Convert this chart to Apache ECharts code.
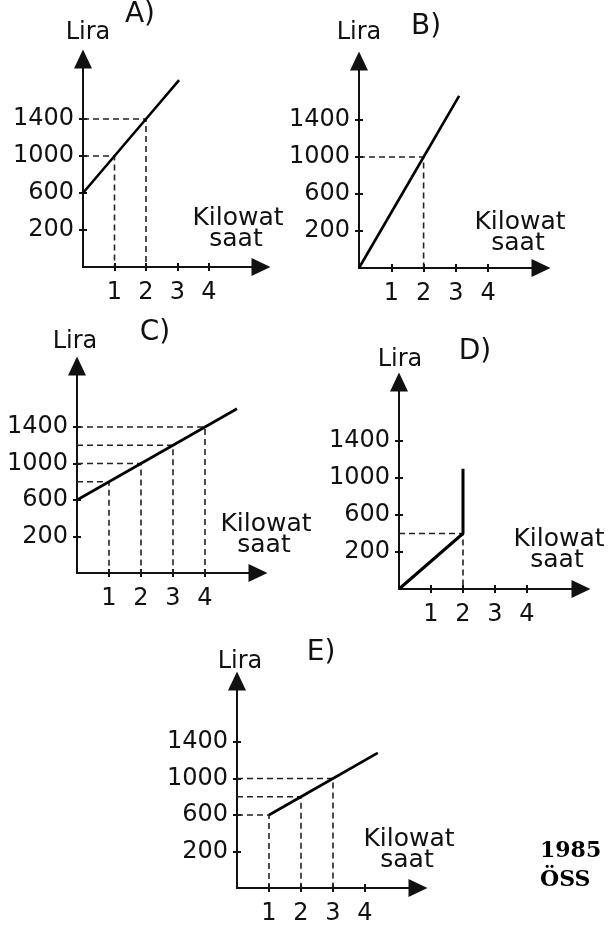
<!DOCTYPE html>
<html>
<head>
<meta charset="UTF-8">
<title>1985 ÖSS grafikler</title>
<script src="https://cdn.jsdelivr.net/npm/echarts@6/dist/echarts.min.js"></script>
<style>body{margin:0;background:#fff}</style>
</head>
<body>
<div id="show" style="width:610px;height:930px"></div>
<script type="text/javascript">
// values (kilowatt-hour, lira)
var xTicks = [1, 2, 3, 4];
var yTicks = [200, 600, 1000, 1400];
var lineA = [[0, 600], [1, 1000], [2, 1400], [3.05, 1820]];
var lineB = [[0, 0], [2, 1000], [3.1, 1660]];
var lineC = [[0, 600], [1, 800], [2, 1000], [3, 1200], [4, 1400], [5, 1600]];
var lineD = [[0, 0], [2, 400], [2, 1100]];
var lineE = [[1, 600], [2, 800], [3, 1000], [4.4, 1280]];
var guideA = [[1, 1000], [2, 1400]];
var guideB = [[2, 1000]];
var guideC = [[1, 800], [2, 1000], [3, 1200], [4, 1400]];
var guideD = [[2, 400]];
var guideE = [[1, 600], [2, 800], [3, 1000]];

// y axis of the drawing: 0..200 takes the same room as 400 above it
function toAxis(v) { return v < 200 ? 2 * v - 200 : v; }

var panels = [
  {name: 'A)', line: lineA, guide: guideA, ox: 83, oy: 267, ux: 31.5, uy: 37, xTip: 270, yTip: 50,
   title: [140, 15], lira: [88, 33], kw: [238, 218]},
  {name: 'B)', line: lineB, guide: guideB, ox: 359, oy: 268, ux: 32.3, uy: 37, xTip: 550, yTip: 52,
   title: [426, 27], lira: [359, 33], kw: [520, 222]},
  {name: 'C)', line: lineC, guide: guideC, ox: 77, oy: 573, ux: 32, uy: 36.5, xTip: 267, yTip: 357,
   title: [155, 333], lira: [75, 342], kw: [266, 524]},
  {name: 'D)', line: lineD, guide: guideD, ox: 399, oy: 589, ux: 32, uy: 37, xTip: 590, yTip: 373,
   title: [475, 352], lira: [400, 360], kw: [559, 539], bold: 3},
  {name: 'E)', line: lineE, guide: guideE, ox: 237, oy: 888, ux: 32, uy: 36.5, xTip: 427, yTip: 672,
   title: [321, 653], lira: [240, 662], kw: [409, 839]}
];

var FONT = 'DejaVu Sans';
var INK = '#111';
var FS = 24;
var grid = [], xAxis = [], yAxis = [], series = [], graphic = [];

function plain(v) { return String(v); }

panels.forEach(function (p, i) {
  var half = 9;
  var w = p.xTip - half - p.ox;
  var top = p.yTip + half;
  var h = p.oy - top;
  grid.push({left: p.ox, top: top, width: w, height: h, outerBoundsMode: 'none'});
  var xMax = w / p.ux;
  var yMax = -200 + h / p.uy * 400;
  xAxis.push({
    type: 'value', gridIndex: i, min: 0, max: xMax, position: 'bottom',
    splitLine: {show: false},
    axisLine: {onZero: false, lineStyle: {color: INK, width: 2}, symbol: ['none', 'triangle'], symbolSize: [18, 19]},
    axisTick: {customValues: xTicks, length: 4, lineStyle: {color: INK, width: 2}},
    axisLabel: {customValues: xTicks, formatter: plain, margin: 14, color: INK, fontFamily: FONT, fontSize: FS}
  });
  yAxis.push({
    type: 'value', gridIndex: i, min: -200, max: yMax, position: 'left',
    splitLine: {show: false},
    axisLine: {onZero: false, lineStyle: {color: INK, width: 2}, symbol: ['none', 'triangle'], symbolSize: [18, 19]},
    axisTick: {customValues: yTicks, length: 4, lineStyle: {color: INK, width: 2}},
    axisLabel: {customValues: yTicks, formatter: plain, margin: 9, color: INK, fontFamily: FONT, fontSize: FS}
  });
  // inner half of the ticks, so they cross the axis
  xAxis.push({type: 'value', gridIndex: i, min: 0, max: xMax, position: 'bottom', splitLine: {show: false},
    axisLine: {show: false, onZero: false}, axisLabel: {show: false},
    axisTick: {customValues: xTicks, inside: true, length: 4, lineStyle: {color: INK, width: 2}}});
  yAxis.push({type: 'value', gridIndex: i, min: -200, max: yMax, position: 'left', splitLine: {show: false},
    axisLine: {show: false, onZero: false}, axisLabel: {show: false},
    axisTick: {customValues: yTicks, inside: true, length: 4, lineStyle: {color: INK, width: 2}}});

  p.guide.forEach(function (g) {
    series.push({
      type: 'line', xAxisIndex: 2 * i, yAxisIndex: 2 * i, symbol: 'none', silent: true,
      lineStyle: {color: '#222', width: 1.6, type: [6, 4]},
      data: [[0, g[1]], [g[0], g[1]], [g[0], 0]].map(function (d) { return [d[0], toAxis(d[1])]; })
    });
  });
  series.push({
    type: 'line', xAxisIndex: 2 * i, yAxisIndex: 2 * i, symbol: 'none', silent: true, z: 5,
    lineStyle: {color: '#000', width: p.bold || 2.6},
    data: p.line.map(function (d) { return [d[0], toAxis(d[1])]; })
  });

  graphic.push({type: 'text', x: p.title[0], y: p.title[1],
    style: {text: p.name, fill: INK, font: '28px "' + FONT + '"', align: 'center', verticalAlign: 'middle'}});
  graphic.push({type: 'text', x: p.lira[0], y: p.lira[1],
    style: {text: 'Lira', fill: INK, font: FS + 'px "' + FONT + '"', align: 'center', verticalAlign: 'middle'}});
  graphic.push({type: 'text', x: p.kw[0], y: p.kw[1],
    style: {text: 'Kilowat', fill: INK, font: (FS + 1) + 'px "' + FONT + '"', align: 'center', verticalAlign: 'middle'}});
  graphic.push({type: 'text', x: p.kw[0] - 2, y: p.kw[1] + 21,
    style: {text: 'saat', fill: INK, font: (FS + 1) + 'px "' + FONT + '"', align: 'center', verticalAlign: 'middle'}});
});

graphic.push({type: 'text', x: 540, y: 851,
  style: {text: '1985', fill: '#000', font: 'bold 22px "DejaVu Serif"', align: 'left', verticalAlign: 'middle'}});
graphic.push({type: 'text', x: 540, y: 880,
  style: {text: 'ÖSS', fill: '#000', font: 'bold 22px "DejaVu Serif"', align: 'left', verticalAlign: 'middle'}});

var myCharts = echarts.init(document.getElementById('show'));
myCharts.setOption({
  animation: false,
  grid: grid,
  xAxis: xAxis,
  yAxis: yAxis,
  series: series,
  graphic: graphic
});
</script>
</body>
</html>
